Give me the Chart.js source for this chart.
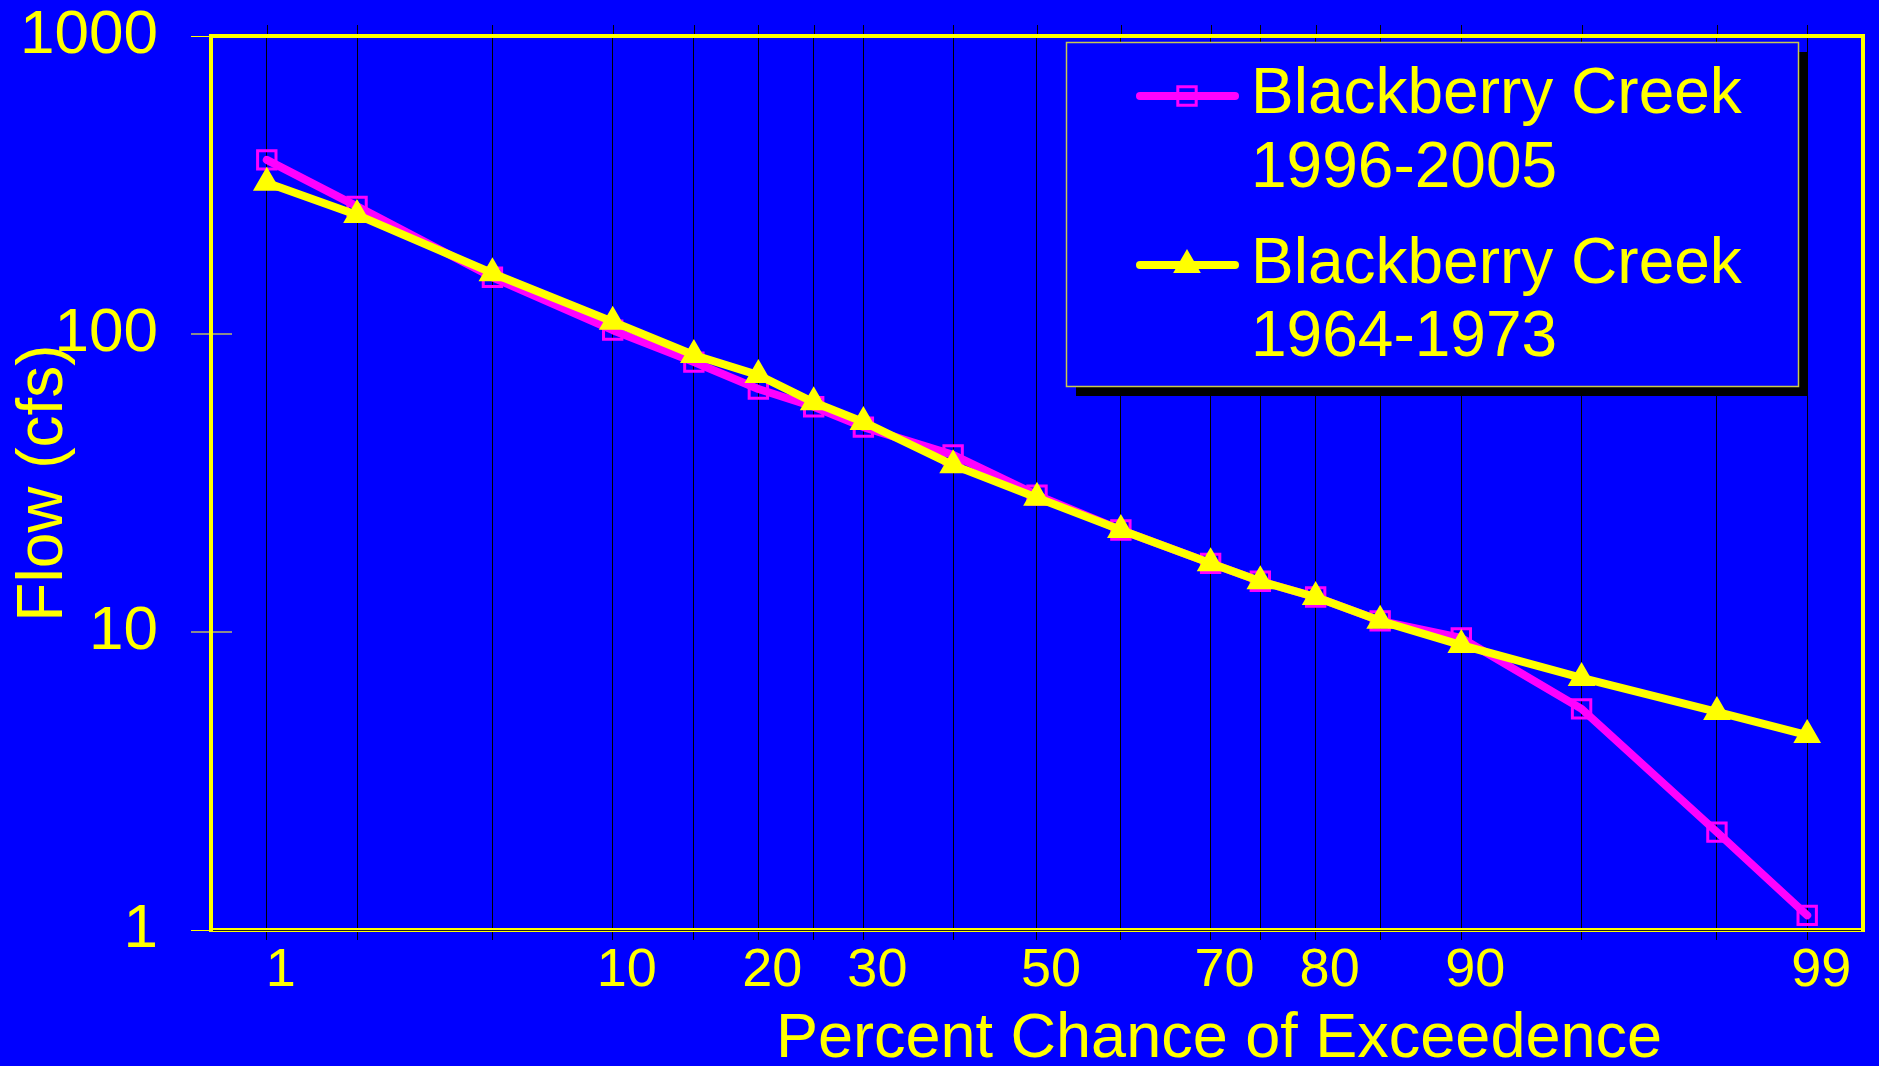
<!DOCTYPE html>
<html>
<head>
<meta charset="utf-8">
<title>Blackberry Creek - Flow duration</title>
<script src="https://cdn.jsdelivr.net/npm/chart.js@4.4.1/dist/chart.umd.min.js"></script>
<style>
  html, body { margin: 0; padding: 0; background: #0000ff; }
  #wrap { width: 1879px; height: 1066px; }
</style>
</head>
<body>
<div id="wrap"><canvas id="grafico" width="1879" height="1066"></canvas></div>
<script>
// Dados (percentual de excedência e vazão em cfs)
const percentis = [1, 2, 5, 10, 15, 20, 25, 30, 40, 50, 60, 70, 75, 80, 85, 90, 95, 98, 99];
const vazao1996 = [384, 268, 155, 103, 80.5, 65.4, 57, 48.7, 39.3, 28.8, 22.0, 17.0, 14.8, 13.1, 10.9, 9.55, 5.52, 2.13, 1.12];
const vazao1964 = [322, 251, 160, 110, 85, 72.8, 59, 50.7, 36.3, 28.2, 22.0, 17.0, 14.8, 13.1, 10.9, 9.04, 7.01, 5.39, 4.51];
const nomesSeries = [["Blackberry Creek", "1996-2005"], ["Blackberry Creek", "1964-1973"]];

// Eixos
const gradeX = [1, 2, 5, 10, 15, 20, 25, 30, 40, 50, 60, 70, 75, 80, 85, 90, 95, 98, 99];
const rotulosX = [1, 10, 20, 30, 50, 70, 80, 90, 99];
const ticksY = [1, 10, 100, 1000];
const limitesX = [0.63, 99.37];
const tituloX = "Percent Chance of Exceedence";
const tituloY = "Flow (cfs)";

const fonte = "'Liberation Sans', Arial, Helvetica, sans-serif";
const amarelo = "#ffff00";
const magenta = "#ff00ff";
const azul = "#0000ff";

// Função inversa da normal (papel de probabilidade)
function escalaNormal(pct) {
    var p = pct / 100;
    var a = [-3.969683028665376e+01, 2.209460984245205e+02, -2.759285104469687e+02, 1.383577518672690e+02, -3.066479806614716e+01, 2.506628277459239e+00];
    var b = [-5.447609879822406e+01, 1.615858368580409e+02, -1.556989798598866e+02, 6.680131188771972e+01, -1.328068155288572e+01];
    var c = [-7.784894002430293e-03, -3.223964580411365e-01, -2.400758277161838e+00, -2.549732539343734e+00, 4.374664141464968e+00, 2.938163982698783e+00];
    var d = [7.784695709041462e-03, 3.224671290700398e-01, 2.445134137142996e+00, 3.754408661907416e+00];
    var q, r;
    if (p < 0.02425) {
        q = Math.sqrt(-2 * Math.log(p));
        return (((((c[0] * q + c[1]) * q + c[2]) * q + c[3]) * q + c[4]) * q + c[5]) / ((((d[0] * q + d[1]) * q + d[2]) * q + d[3]) * q + 1);
    }
    if (p > 1 - 0.02425) {
        q = Math.sqrt(-2 * Math.log(1 - p));
        return -(((((c[0] * q + c[1]) * q + c[2]) * q + c[3]) * q + c[4]) * q + c[5]) / ((((d[0] * q + d[1]) * q + d[2]) * q + d[3]) * q + 1);
    }
    q = p - 0.5;
    r = q * q;
    return (((((a[0] * r + a[1]) * r + a[2]) * r + a[3]) * r + a[4]) * r + a[5]) * q / (((((b[0] * r + b[1]) * r + b[2]) * r + b[3]) * r + b[4]) * r + 1);
}

function montarPontos(valores) {
    return percentis.map(function (p, i) { return { x: escalaNormal(p), y: valores[i] }; });
}

// Plugin para fundo, moldura, título do eixo x e legenda
const moldura = {
    id: "moldura",
    beforeDraw(chart) {
        const ctx = chart.ctx;
        ctx.save();
        ctx.fillStyle = azul;
        ctx.fillRect(0, 0, chart.width, chart.height);
        ctx.restore();
    },
    afterDraw(chart) {
        const ctx = chart.ctx;
        const area = chart.chartArea;
        const sx = chart.scales.x;
        const sy = chart.scales.y;
        ctx.save();

        // linhas da grade passando um pouco acima da moldura
        ctx.strokeStyle = "#000000";
        ctx.lineWidth = 1;
        sx.ticks.forEach(function (t) {
            const px = Math.round(sx.getPixelForValue(t.value)) + 0.5;
            ctx.beginPath();
            ctx.moveTo(px, area.top - 11);
            ctx.lineTo(px, area.top);
            ctx.stroke();
        });

        // marcas cinzas do eixo y para dentro
        ctx.strokeStyle = "#8c8c8c";
        ctx.lineWidth = 2;
        [10, 100].forEach(function (v) {
            const py = sy.getPixelForValue(v);
            ctx.beginPath();
            ctx.moveTo(area.left, py);
            ctx.lineTo(area.left + 21, py);
            ctx.stroke();
        });

        // moldura amarela
        ctx.strokeStyle = amarelo;
        ctx.lineWidth = 4;
        ctx.strokeRect(area.left, area.top, area.right - area.left, area.bottom - area.top);
        ctx.strokeStyle = "#202020";
        ctx.lineWidth = 1;
        ctx.beginPath();
        ctx.moveTo(area.left + 2, area.bottom + 0.5);
        ctx.lineTo(area.right - 2, area.bottom + 0.5);
        ctx.stroke();

        // título do eixo x
        ctx.fillStyle = amarelo;
        ctx.font = "63px " + fonte;
        ctx.textAlign = "center";
        ctx.textBaseline = "alphabetic";
        ctx.fillText(tituloX, 1219, 1057);

        // legenda com sombra
        const lx = 1066, ly = 42, lw = 732, lh = 344;
        ctx.fillStyle = "#000000";
        ctx.fillRect(lx + 10, ly + 10, lw, lh);
        ctx.fillStyle = azul;
        ctx.fillRect(lx, ly, lw, lh);
        ctx.strokeStyle = "#c8c850";
        ctx.lineWidth = 1.5;
        ctx.strokeRect(lx + 0.5, ly + 0.5, lw, lh);

        const linhasY = [96, 265];
        const bases = [[113, 187], [283, 356]];
        chart.data.datasets.forEach(function (ds, i) {
            ctx.strokeStyle = ds.borderColor;
            ctx.lineWidth = 8;
            ctx.lineCap = "round";
            ctx.beginPath();
            ctx.moveTo(1140, linhasY[i]);
            ctx.lineTo(1235, linhasY[i]);
            ctx.stroke();
            ctx.fillStyle = ds.pointBackgroundColor;
            ctx.strokeStyle = ds.pointBorderColor;
            ctx.lineWidth = ds.pointBorderWidth;
            Chart.helpers.drawPoint(ctx, {
                pointStyle: ds.pointStyle,
                radius: ds.pointRadius,
                rotation: 0,
                borderWidth: ds.pointBorderWidth
            }, 1187, linhasY[i]);

            ctx.fillStyle = amarelo;
            ctx.font = "64px " + fonte;
            ctx.textAlign = "left";
            ctx.textBaseline = "alphabetic";
            nomesSeries[i].forEach(function (txt, k) {
                ctx.fillText(txt, 1251, bases[i][k]);
            });
        });

        ctx.restore();
    }
};

const div = document.getElementById("grafico");
const data = {
    datasets: [{
        label: nomesSeries[0].join(" "),
        data: montarPontos(vazao1996),
        borderColor: magenta,
        backgroundColor: "rgba(0,0,0,0)",
        borderWidth: 8,
        borderJoinStyle: "round",
        borderCapStyle: "round",
        pointStyle: "rect",
        pointRadius: 13,
        pointBorderWidth: 3,
        pointBorderColor: magenta,
        pointBackgroundColor: "rgba(0,0,0,0)",
        tension: 0,
        order: 2
    }, {
        label: nomesSeries[1].join(" "),
        data: montarPontos(vazao1964),
        borderColor: amarelo,
        backgroundColor: "rgba(0,0,0,0)",
        borderWidth: 8,
        borderJoinStyle: "round",
        borderCapStyle: "round",
        pointStyle: "triangle",
        pointRadius: 14,
        pointBorderWidth: 2,
        pointBorderColor: amarelo,
        pointBackgroundColor: amarelo,
        tension: 0,
        order: 1
    }]
};

const config = {
    type: "line",
    data: data,
    options: {
        responsive: false,
        animation: false,
        layout: { padding: { top: 36, right: 14, left: 0, bottom: 0 } },
        plugins: {
            legend: { display: false },
            tooltip: { enabled: false }
        },
        scales: {
            x: {
                type: "linear",
                bounds: "data",
                min: escalaNormal(limitesX[0]),
                max: escalaNormal(limitesX[1]),
                afterBuildTicks: function (s) {
                    s.ticks = gradeX.map(function (p) { return { value: escalaNormal(p) }; });
                },
                afterFit: function (s) {
                    s.height = 136;
                    s.paddingLeft = 0;
                    s.paddingRight = 0;
                },
                border: { display: false },
                grid: { color: "#000000", lineWidth: 1, drawTicks: true, tickLength: 10 },
                ticks: {
                    autoSkip: false,
                    maxRotation: 0,
                    minRotation: 0,
                    color: amarelo,
                    font: { family: fonte, size: 54, lineHeight: 1 },
                    padding: 4,
                    labelOffset: 14,
                    callback: function (v, i) {
                        return rotulosX.includes(gradeX[i]) ? String(gradeX[i]) : "";
                    }
                }
            },
            y: {
                type: "logarithmic",
                min: 1,
                max: 1000,
                afterBuildTicks: function (s) {
                    s.ticks = ticksY.map(function (v) { return { value: v }; });
                },
                afterFit: function (s) {
                    s.width = 211;
                    s.paddingTop = 0;
                    s.paddingBottom = 0;
                },
                border: { display: false },
                grid: {
                    drawOnChartArea: false,
                    drawTicks: true,
                    tickLength: 20,
                    color: function (c) {
                        return (c.tick && (c.tick.value === 10 || c.tick.value === 100)) ? "#8c8c8c" : amarelo;
                    },
                    lineWidth: function (c) {
                        return (c.tick && (c.tick.value === 10 || c.tick.value === 100)) ? 2 : 1;
                    }
                },
                ticks: {
                    color: amarelo,
                    font: { family: fonte, size: 62, lineHeight: 1 },
                    padding: 33,
                    callback: function (v) { return String(v); }
                },
                title: {
                    display: true,
                    text: tituloY,
                    color: amarelo,
                    font: { family: fonte, size: 64 },
                    padding: { top: 6, bottom: 0 }
                }
            }
        }
    },
    plugins: [moldura]
};

const myChart = new Chart(div, config);
</script>
</body>
</html>
